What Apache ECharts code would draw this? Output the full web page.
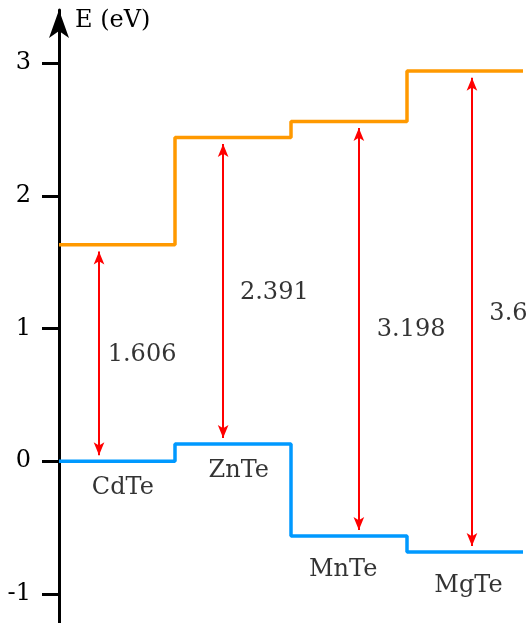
<!DOCTYPE html>
<html>
<head>
<meta charset="utf-8">
<script src="https://cdn.jsdelivr.net/npm/echarts@6/dist/echarts.min.js"></script>
<style>
  html, body { margin: 0; padding: 0; background: #fff; }
  #chart { width: 531px; height: 623px; }
</style>
</head>
<body>
<div id="chart"></div>
<script>
// band edges (eV)
var materials = ['CdTe', 'ZnTe', 'MnTe', 'MgTe'];
var cbm = [1.63, 2.44, 2.56, 2.94];     // conduction band
var vbm = [0, 0.13, -0.565, -0.685];    // valence band
var gapText = ['1.606', '2.391', '3.198', '3.6'];
var yTicks = [-1, 0, 1, 2, 3];

// where things sit inside each material's slot (x in slot units)
var arrowX = [0.345, 1.415, 2.585, 3.56];
var gapLabelAt = [[0.42, 0.80], [1.56, 1.27], [2.74, 0.99], [3.71, 1.11]];
var nameLabelAt = [[0.55, -0.20], [1.55, -0.07], [2.45, -0.82], [3.53, -0.94]];

var FONT = 'DejaVu Serif';

function steps(vals) {
    var arr = [];
    for (var i = 0; i < vals.length; i++) {
        arr.push([i, vals[i]]);
        arr.push([i + 1, vals[i]]);
    }
    return arr;
}

var arrowLines = [];
for (var i = 0; i < materials.length; i++) {
    arrowLines.push([
        { coord: [arrowX[i], vbm[i] + 0.045] },
        { coord: [arrowX[i], cbm[i] - 0.05] }
    ]);
}

var gapPts = gapText.map(function (t, i) { return [gapLabelAt[i][0], gapLabelAt[i][1], t]; });
var namePts = materials.map(function (t, i) { return [nameLabelAt[i][0], nameLabelAt[i][1], t]; });

var myChart = echarts.init(document.getElementById('chart'));

var option = {
    animation: false,
    backgroundColor: '#fff',
    grid: { left: 59, right: 8, top: 10, bottom: 0 },
    xAxis: {
        type: 'value', min: 0, max: 4,
        show: false
    },
    yAxis: {
        type: 'value', min: -1.22, max: 3.40,
        splitLine: { show: false },
        axisLine: {
            show: true,
            lineStyle: { color: '#000', width: 3 },
            symbol: ['none', 'arrow'],
            symbolSize: [15, 28]
        },
        axisTick: {
            show: true, length: 17,
            lineStyle: { color: '#000', width: 3 },
            customValues: yTicks
        },
        axisLabel: {
            color: '#000', fontFamily: FONT, fontSize: 24, margin: 28,
            customValues: yTicks
        }
    },
    graphic: [{
        type: 'text', left: 75, top: 9,
        style: { text: 'E (eV)', font: '24px "DejaVu Serif"', fill: '#000' }
    }],
    series: [
        {
            type: 'line', data: steps(cbm), symbol: 'none',
            lineStyle: { color: '#ff9900', width: 3.5 }
        },
        {
            type: 'line', data: steps(vbm), symbol: 'none',
            lineStyle: { color: '#0099ff', width: 3.5 }
        },
        {
            type: 'line', data: [], symbol: 'none',
            markLine: {
                silent: true,
                symbol: ['arrow', 'arrow'],
                symbolSize: [8, 13],
                label: { show: false },
                lineStyle: { color: '#ff0000', width: 2, type: 'solid' },
                data: arrowLines
            }
        },
        {
            type: 'scatter', data: gapPts, symbolSize: 0, silent: true,
            label: {
                show: true, position: 'right', distance: 0,
                formatter: function (p) { return p.value[2]; },
                color: '#000', fontFamily: FONT, fontSize: 24
            }
        },
        {
            type: 'scatter', data: namePts, symbolSize: 0, silent: true,
            label: {
                show: true, position: 'inside',
                formatter: function (p) { return p.value[2]; },
                color: '#000', fontFamily: FONT, fontSize: 24
            }
        }
    ]
};

myChart.setOption(option);
</script>
</body>
</html>
